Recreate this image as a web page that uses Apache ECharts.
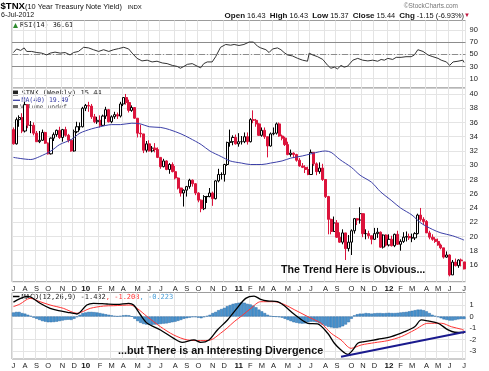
<!DOCTYPE html>
<html><head><meta charset="utf-8">
<script src="https://cdn.jsdelivr.net/npm/echarts@6/dist/echarts.min.js"></script>
<style>html,body{margin:0;padding:0;background:#fff}#c{width:489px;height:371px}</style>
</head><body><div id="c"></div>
<script>
// ---- categories (weekly bars, Fridays) ----
const firstWeek = Date.UTC(2009, 6, 10);
const weekCount = 157;
const weeks = Array.from({length: weekCount}, (_, i) => new Date(firstWeek + i * 7 * 864e5).toISOString().slice(0, 10));

// month tick labels and the week index where each month starts
const monthTickLabels = ['J','A','S','O','N','D','10','F','M','A','M','J','J','A','S','O','N','D','11','F','M','A','M','J','J','A','S','O','N','D','12','F','M','A','M','J','J'];
const monthTickWeeks = [0,4,8,12,17,21,25,30,34,38,43,47,51,56,60,64,69,73,78,82,86,90,95,99,103,108,112,117,121,125,130,134,138,143,147,151,156];

// ---- $TNX weekly candles: [open, close, low, high] ----
const candles2009 = [
 [35.0,33.0,32.9,35.3],[33.0,36.4,32.9,36.7],[36.4,36.7,35.4,37.0],[36.7,34.8,34.5,37.3],[34.8,38.5,34.6,38.9],
 [38.5,35.6,35.2,38.5],[35.6,35.6,34.5,36.2],[35.6,34.5,34.2,36.0],[34.5,33.3,33.3,34.8],[33.3,33.5,33.1,34.8],
 [33.5,34.6,33.4,35.0],[34.6,33.1,33.0,34.7],[33.1,31.6,31.5,33.2],[31.6,33.8,31.5,33.9],[33.8,34.3,33.4,34.6],
 [34.3,34.9,34.0,35.0],[34.9,33.9,33.7,35.4],[33.9,35.0,33.3,35.1],[35.0,34.2,34.0,35.4],[34.2,33.5,33.2,34.4],
 [33.5,32.0,31.9,33.6],[32.0,34.7,31.9,35.0],[34.7,35.4,34.5,36.1],[35.4,35.4,34.9,36.0],[35.4,38.0,35.3,38.2]
];
const candles2010 = [
 [38.0,38.4,37.6,38.6],[38.4,38.3,37.5,38.9],[38.3,36.8,36.5,38.6],[36.8,36.1,35.9,37.2],[36.1,36.3,35.8,36.8],
 [36.3,35.6,35.3,37.0],[35.6,36.9,35.5,37.1],[36.9,37.8,36.5,38.2],[37.8,36.1,36.0,37.9],[36.1,36.8,35.9,37.0],
 [36.8,37.1,36.5,37.5],[37.1,36.9,36.5,37.4],[36.9,38.6,36.7,38.9],[38.6,39.5,38.3,39.5],[39.5,38.8,38.5,40.0],
 [38.8,37.7,37.4,39.2],[37.7,38.1,37.5,38.4],[38.1,36.6,36.5,38.1],[36.6,34.5,33.9,36.6],[34.5,34.4,33.9,35.7],
 [34.4,32.1,31.7,34.4],[32.1,33.0,31.8,33.4],[33.0,32.0,31.9,33.5],[32.0,32.4,31.8,32.7],[32.4,32.2,31.8,33.1],
 [32.2,31.1,31.0,32.5],[31.1,29.8,29.5,31.1],[29.8,30.6,29.7,30.9],[30.6,29.4,29.3,30.7],[29.4,30.1,28.8,30.3],
 [30.1,29.1,29.0,30.4],[29.1,28.2,28.0,29.9],[28.2,26.8,26.6,28.3],[26.8,26.1,25.6,26.8],[26.1,26.5,24.2,26.6],
 [26.5,27.0,25.6,27.1],[27.0,27.9,26.7,28.1],[27.9,27.4,27.0,28.0],[27.4,26.1,25.8,27.5],[26.1,25.1,24.8,26.2],
 [25.1,23.9,23.4,25.2],[23.9,25.6,23.7,25.8],[25.6,25.6,24.7,25.7],[25.6,26.1,25.5,26.8],[26.1,25.3,24.3,26.3],
 [25.3,27.8,25.2,27.9],[27.8,28.7,27.6,29.5],[28.7,28.7,28.0,29.0],[28.7,30.1,27.7,30.2],[30.1,33.2,29.9,33.3],
 [33.2,33.3,32.6,35.0],[33.3,33.9,32.8,34.2],[33.9,33.0,32.9,34.3]
];
const candles2011 = [
 [33.0,33.3,32.6,34.5],[33.3,33.3,32.9,34.1],[33.3,34.0,33.1,34.6],[34.0,33.3,32.9,34.6],[33.3,36.4,33.2,36.6],
 [36.4,36.3,35.9,37.7],[36.3,35.8,35.4,36.5],[35.8,34.2,34.1,35.9],[34.2,34.9,34.0,35.3],[34.9,34.0,33.7,35.3],
 [34.0,32.7,31.1,34.0],[32.7,34.4,32.6,34.6],[34.4,34.5,34.2,35.3],[34.5,35.8,34.3,36.0],[35.8,34.1,34.0,36.0],
 [34.1,33.8,33.5,34.3],[33.8,32.9,32.7,34.0],[32.9,31.5,31.4,33.3],[31.5,31.7,31.2,32.2],[31.7,31.5,31.0,31.8],
 [31.5,30.7,30.5,31.6],[30.7,29.9,29.8,31.0],[29.9,29.7,29.6,30.3],[29.7,29.4,28.9,30.0],[29.4,28.7,28.6,29.8],
 [28.7,31.8,28.7,32.2],[31.8,30.2,29.9,31.8],[30.2,29.1,28.6,30.4],[29.1,29.6,28.8,30.4],[29.6,28.0,27.8,30.2],
 [28.0,25.6,25.4,28.0],[25.6,22.4,20.3,25.7],[22.4,20.7,20.3,22.5],[20.7,21.9,20.8,22.8],[21.9,19.9,19.8,22.3],
 [19.9,19.2,19.1,20.6],[19.2,20.5,18.9,21.0],[20.5,18.3,16.7,20.5],[18.3,19.2,17.9,20.2],[19.2,20.8,17.4,21.0],
 [20.8,22.5,20.4,22.6],[22.5,22.3,21.6,22.6],[22.3,23.2,21.8,24.1],[23.2,20.4,19.9,23.2],[20.4,20.4,19.6,21.0],
 [20.4,20.1,19.7,20.8],[20.1,19.6,18.9,20.1],[19.6,20.4,19.5,21.2],[20.4,20.6,19.8,21.2],[20.6,18.5,18.4,20.7],
 [18.5,20.2,18.3,20.3],[20.2,18.8,18.6,20.3]
];
const candles2012 = [
 [18.8,19.6,18.6,20.3],[19.6,18.7,18.6,20.1],[18.7,20.3,18.5,20.4],[20.3,18.9,18.8,20.8],[18.9,19.3,18.0,19.6],
 [19.3,19.9,19.1,20.6],[19.9,20.0,19.3,20.7],[20.0,19.8,19.5,20.4],[19.8,19.8,19.2,20.4],[19.8,20.4,19.5,20.6],
 [20.4,23.0,20.3,23.2],[23.0,22.4,22.1,24.0],[22.4,22.1,21.6,22.7],[22.1,20.5,20.5,22.3],[20.5,19.9,19.6,20.8],
 [19.9,19.6,19.4,20.3],[19.6,19.3,19.1,19.9],[19.3,18.8,18.7,19.7],[18.8,18.4,18.2,19.0],[18.4,17.1,16.9,18.4],
 [17.1,17.4,17.0,17.9],[17.4,14.6,14.4,17.5],[14.6,16.4,14.6,16.7],[16.4,15.9,15.8,16.9],[15.9,16.7,15.6,16.8],
 [16.7,16.59,15.8,16.9],[16.43,15.44,15.37,16.43]
];

// ---- MA(40), read at sample weeks ----
const maWeek  = [0,6,9,13,16,20,23,27,30,34,37,41,44,47,51,54,58,61,65,68,72,75,79,82,86,89,93,96,100,103,106,108,110,113,117,120,124,127,131,134,138,141,145,148,152,156];
const maValue = [31.1,30.8,31.2,32.0,32.9,33.6,34.5,35.1,35.4,35.7,35.7,35.9,35.8,35.4,35.3,35.0,34.4,33.8,32.9,32.0,31.2,30.6,30.3,30.1,30.1,30.3,30.6,31.0,31.3,31.6,31.9,32.0,31.8,30.8,29.7,28.6,27.6,26.3,25.0,24.0,23.0,21.9,21.0,20.5,20.1,19.49];

// ---- RSI(14) ----
const rsiWeek  = [0,1.1,2.5,3.7,4.6,6.3,8.1,9.8,11.5,12.7,14.4,16.2,17.9,19.6,20.8,22.5,24.3,26,27.7,29.5,31.2,33,34.7,36.4,38.2,39.9,41.1,42.8,44.5,46.3,48,49.7,51.5,53.2,55,56.7,57.8,59,60.2,61.9,63.6,64.8,65.9,67.1,68.8,70,71.7,73.5,75.2,76.4,78.1,79.8,81.6,83.1,84.5,85.6,87.4,88.5,89.7,91.4,92.6,93.7,94.9,96.6,98.4,100.1,101.8,102.4,103.6,105.3,107.1,108.8,109.9,111.1,112.2,113.4,114.5,115.7,117.5,119.2,120.9,122.7,124.4,126.1,127.3,128.4,129.6,131.3,132.5,134.2,135.9,137.7,138.8,140,141.8,143.5,145.2,147,148.1,149.9,151,152.2,153.9,155.6,156];
const rsiValue = [53.1,59,56.6,60.8,54.9,54.9,53.1,52.1,49.1,52.1,53.8,52.1,53.1,49.1,53.1,54.9,61.8,60.8,57.8,54.9,57.8,54.9,57.8,59.6,61.8,59,52.1,43.4,39.2,40.4,37.5,38.7,35.8,34.7,31.7,30,27,30,33.5,34.7,30.5,27.7,34.7,37.5,37.5,46.2,61.8,66.5,65.3,66.5,64.8,66.5,70.5,70.5,63.6,60.8,57.8,53.1,59,60.8,57.8,53.1,49.1,47.4,43.4,40.4,38.7,52.1,49.1,46.2,41.6,31.7,27,28.8,26,31.7,28.8,30.5,40.4,43.4,40.4,39.2,40.4,38.7,41.6,40.4,43.4,41.6,45.1,45.1,46.2,46.2,49.1,57.8,54.9,49.1,46.2,43.4,40.4,37.5,31.7,37.5,38.7,40.4,36.61];

// ---- MACD(12,26,9) ----
const macdWeek  = [0,2.3,4.5,5.75,9.2,12.7,15.6,19.6,22,25.4,27.7,32.4,35.9,39.9,41.6,44,46.3,50.9,55.5,58.4,62.5,64.8,67.7,70.6,74.1,77,80.4,83.3,85.6,88,91.4,93.7,97.2,101.9,105.3,108.8,111.1,113.4,115.8,117.5,119.2,121.5,126.2,130.8,135.4,138.9,141.2,143.5,147,150.5,152.8,155.1,156];
const macdValue = [1.25,1.55,1.75,1.72,1.15,0.71,0.51,0.33,0.22,1.0,1.15,1.09,1.06,1.15,1.0,0.13,-0.59,-1.17,-1.9,-2.25,-2.04,-2.25,-2.04,-1.17,-0.3,0.6,1.58,1.78,1.49,1.35,1.29,0.95,0.2,-0.59,-0.65,-1.46,-2.33,-2.91,-3.29,-2.91,-2.33,-2.19,-1.98,-1.75,-1.32,-0.89,-0.3,-0.39,-0.59,-1.17,-1.37,-1.38,-1.432];
const signalWeek  = [0,2.3,5.75,9.2,12.7,17.3,22,26.6,31.2,34.7,40.5,42.8,46.3,50.9,55.5,60.2,64.8,68.3,71.7,74,76.4,79,82.2,85.6,90.3,93.7,97.2,101.9,106.5,110,113.4,116.9,120.4,125,129.6,134.3,138.9,143.5,148.2,151.6,155.1,156];
const signalValue = [0.86,1.09,1.58,1.29,1.0,0.71,0.28,0.71,0.91,0.94,1.0,0.71,-0.01,-0.89,-1.61,-2.04,-2.1,-2.04,-1.46,-1.0,-0.45,0.05,0.71,1.29,1.29,1.05,0.6,-0.01,-0.59,-1.46,-2.04,-2.77,-2.48,-2.28,-2.1,-1.75,-1.17,-0.59,-0.59,-0.89,-1.11,-1.208];
const histValue = [
 0.35,0.4,0.4,0.3,0.25,0.15,0.05,-0.1,-0.2,-0.3,-0.4,-0.45,-0.5,-0.5,-0.48,-0.45,-0.4,-0.35,-0.3,-0.28,-0.3,-0.2,-0.05,0.15,0.3,
 0.35,0.4,0.4,0.38,0.35,0.3,0.25,0.2,0.15,0.1,0.05,0.02,0.05,0.1,0.12,0.1,0.0,-0.2,-0.4,-0.55,-0.65,-0.7,-0.72,-0.72,-0.7,
 -0.68,-0.65,-0.62,-0.6,-0.55,-0.5,-0.45,-0.38,-0.3,-0.2,-0.15,-0.1,-0.05,-0.05,-0.1,-0.15,-0.05,0.05,0.15,0.3,0.4,0.55,0.65,0.75,0.9,
 1.0,1.1,1.15,1.2,1.25,1.2,1.1,1.05,0.95,0.8,0.6,0.45,0.3,0.15,0.05,0.0,-0.02,-0.05,-0.1,-0.2,-0.3,-0.4,-0.5,-0.55,-0.6,
 -0.62,-0.6,-0.5,-0.45,-0.45,-0.5,-0.6,-0.7,-0.8,-0.9,-0.95,-1.0,-1.0,-0.95,-0.85,-0.7,-0.5,-0.2,0.1,0.2,0.25,0.25,0.3,0.28,0.25,
 0.28,0.3,0.3,0.28,0.3,0.32,0.3,0.3,0.32,0.35,0.38,0.4,0.45,0.5,0.55,0.6,0.6,0.55,0.45,0.3,0.15,0.05,-0.05,-0.15,-0.25,
 -0.3,-0.35,-0.35,-0.3,-0.25,-0.22,-0.223
];
// drawn trend line on MACD
const trendWeek  = [113.4, 156.5];
const trendValue = [-3.5, -1.33];

// axis ticks
const rsiTicks   = [10, 30, 50, 70, 90];
const priceTicks = [16, 18, 20, 22, 24, 26, 28, 30, 32, 34, 36, 38, 40];
const macdTicks  = [-3, -2, -1, 0, 1];

// ---------------------------------------------------------------
const allCandles = [...candles2009, ...candles2010, ...candles2011, ...candles2012];
const RED = '#dc143c';
const candleData = allCandles.map((c, i) => {
  const prev = i > 0 ? allCandles[i - 1][1] : c[0];
  const col = c[1] >= prev ? '#000000' : RED;
  const fill = c[1] > c[0] ? '#ffffff' : col;
  return {value: c, itemStyle: {color: fill, color0: fill, borderColor: col, borderColor0: col}};
});
const pairs = (xs, ys) => xs.map((x, i) => [x, ys[i]]);
const isMonth = (i) => monthTickWeeks.indexOf(i) >= 0;
const GL = 12, GW = 453.5;
const FONT = '"Liberation Sans", Arial, sans-serif';
const MONO = '"DejaVu Sans Mono", monospace';
const GRID_C = '#e4e4e4';

function catAxis(gi, showLabels) {
  return {
    type: 'category', gridIndex: gi, data: weeks, boundaryGap: true,
    axisLine: {show: false}, axisTick: {show: false},
    splitLine: {show: true, interval: (i) => isMonth(i), lineStyle: {color: GRID_C, width: 1}},
    axisLabel: {
      show: showLabels, interval: (i) => isMonth(i), margin: 3,
      fontSize: 7.5, color: '#222', fontFamily: FONT,
      formatter: (v, i) => {
        const k = monthTickWeeks.indexOf(i);
        if (k < 0) return '';
        const t = monthTickLabels[k];
        return /\d/.test(t) ? '{b|' + t + '}' : t;
      },
      rich: {b: {fontWeight: 'bold', fontSize: 8, fontFamily: FONT, color: '#111'}}
    }
  };
}
function valXAxis(gi) {
  return {type: 'value', gridIndex: gi, min: -0.5, max: weekCount - 0.5, show: false};
}
function yAx(gi, min, max, ticks) {
  return {
    type: 'value', gridIndex: gi, position: 'right', min: min, max: max, scale: true,
    axisLine: {show: false},
    axisTick: {show: false, customValues: ticks},
    splitLine: {show: true, lineStyle: {color: GRID_C, width: 1}},
    axisLabel: {customValues: ticks, margin: 4, fontSize: 7.5, color: '#222', fontFamily: FONT}
  };
}
const gridBase = {left: GL, width: GW, show: true, borderColor: '#9c9c9c', borderWidth: 1, backgroundColor: '#fff'};

const chart = echarts.init(document.getElementById('c'), null, {renderer: 'canvas'});
chart.setOption({
  animation: false,
  backgroundColor: '#ffffff',
  grid: [
    Object.assign({top: 20.5, height: 67.5}, gridBase),
    Object.assign({top: 88, height: 193.7}, gridBase),
    Object.assign({top: 292.5, height: 66.5}, gridBase)
  ],
  xAxis: [catAxis(0, false), catAxis(1, true), catAxis(2, true), valXAxis(0), valXAxis(1), valXAxis(2)],
  yAxis: [yAx(0, -5.8, 106.3, rsiTicks), yAx(1, 13.65, 40.84, priceTicks), yAx(2, -3.7, 2.09, macdTicks)],
  series: [
    {type: 'line', xAxisIndex: 3, yAxisIndex: 0, data: pairs(rsiWeek, rsiValue), symbol: 'none',
     lineStyle: {color: '#333', width: 1}, z: 5,
     markLine: {silent: true, symbol: 'none', label: {show: false}, animation: false,
       data: [
         {yAxis: 70, lineStyle: {color: '#8c8c8c', width: 1, type: 'solid'}},
         {yAxis: 30, lineStyle: {color: '#8c8c8c', width: 1, type: 'solid'}},
         {yAxis: 50, lineStyle: {color: '#8c8c8c', width: 1, type: [6, 2, 1, 2]}}
       ]}},
    {type: 'candlestick', xAxisIndex: 1, yAxisIndex: 1, data: candleData, barWidth: 2.6, z: 4,
     itemStyle: {borderWidth: 1}},
    {type: 'line', xAxisIndex: 4, yAxisIndex: 1, data: pairs(maWeek, maValue), symbol: 'none', smooth: 0.3,
     lineStyle: {color: '#3c40a8', width: 1}, z: 5},
    {type: 'bar', xAxisIndex: 2, yAxisIndex: 2, data: histValue, barCategoryGap: '0%',
     itemStyle: {color: '#4b95cf', borderColor: '#2a6aa6', borderWidth: 0.5}, z: 3},
    {type: 'line', xAxisIndex: 5, yAxisIndex: 2, data: pairs(signalWeek, signalValue), symbol: 'none', smooth: 0.3,
     lineStyle: {color: '#ff3333', width: 1}, z: 5},
    {type: 'line', xAxisIndex: 5, yAxisIndex: 2, data: pairs(macdWeek, macdValue), symbol: 'none', smooth: 0.3,
     lineStyle: {color: '#000', width: 1.3}, z: 6},
    {type: 'line', xAxisIndex: 5, yAxisIndex: 2, data: pairs(trendWeek, trendValue), symbol: 'none',
     lineStyle: {color: '#1a1a8e', width: 2}, z: 7}
  ],
  graphic: [
    {type: 'text', x: 0.5, y: 6, style: {text: '$TNX', font: 'bold 9.6px "Liberation Sans"', fill: '#000', textVerticalAlign: 'middle'}},
    {type: 'text', x: 25, y: 6.5, style: {text: '(10 Year Treasury Note Yield)', font: '7.4px "Liberation Sans"', fill: '#111', textVerticalAlign: 'middle'}},
    {type: 'text', x: 127.5, y: 7, style: {text: 'INDX', font: '6px "Liberation Sans"', fill: '#111', textVerticalAlign: 'middle'}},
    {type: 'text', x: 1, y: 15.5, style: {text: '6-Jul-2012', font: '7px "Liberation Sans"', fill: '#111', textVerticalAlign: 'middle'}},
    {type: 'text', x: 458, y: 6, style: {text: '\u00a9StockCharts.com', font: '6.5px "Liberation Sans"', fill: '#777', textAlign: 'right', textVerticalAlign: 'middle'}},
    {type: 'text', x: 470, y: 15.5, style: {
      text: '{b|Open} 16.43  {b|High} 16.43  {b|Low} 15.37  {b|Close} 15.44  {b|Chg} -1.15 (-6.93%){r|\u25bc}',
      font: '7.4px "Liberation Sans"', fill: '#111', textAlign: 'right', textVerticalAlign: 'middle',
      rich: {b: {fontWeight: 'bold', fontSize: 8, fontFamily: 'Liberation Sans'}, r: {fill: '#c0143c', fontSize: 6}}}},
    // RSI legend
    {type: 'polygon', shape: {points: [[13, 28], [15.5, 23], [18, 28]]}, style: {fill: '#2e8b2e'}},
    {type: 'text', x: 20, y: 25.5, style: {text: 'RSI(14) 36.61', font: '6.8px ' + MONO, fill: '#222', textVerticalAlign: 'middle'}},
    // price legend
    {type: 'rect', shape: {x: 13, y: 90.5, width: 5, height: 5}, style: {fill: '#222'}},
    {type: 'text', x: 21.5, y: 93.3, style: {text: '$TNX (Weekly) 15.44', font: '7px ' + MONO, fill: '#222', textVerticalAlign: 'middle'}},
    {type: 'line', shape: {x1: 13, y1: 100.3, x2: 20, y2: 100.3}, style: {stroke: '#3c40a8', lineWidth: 1.3}},
    {type: 'text', x: 21.5, y: 100.3, style: {text: 'MA(40) 19.49', font: '6.5px ' + MONO, fill: '#3c40a8', textVerticalAlign: 'middle'}},
    {type: 'rect', shape: {x: 13, y: 105, width: 5, height: 4}, style: {fill: '#666'}},
    {type: 'text', x: 20, y: 107, style: {text: 'Volume undef', font: '6.5px ' + MONO, fill: '#555', textVerticalAlign: 'middle'}},
    // MACD legend
    {type: 'line', shape: {x1: 13, y1: 296.5, x2: 19.5, y2: 296.5}, style: {stroke: '#000', lineWidth: 1.5}},
    {type: 'text', x: 21.5, y: 296.8, style: {
      text: 'MACD(12,26,9) -1.432{r|, -1.208}{c|, -0.223}', font: '7px ' + MONO, fill: '#222', textVerticalAlign: 'middle',
      backgroundColor: '#fff',
      rich: {r: {fill: '#ff3333', fontFamily: 'DejaVu Sans Mono', fontSize: 7}, c: {fill: '#4b9fd8', fontFamily: 'DejaVu Sans Mono', fontSize: 7}}}},
    // annotations
    {type: 'text', x: 281, y: 270.5, z: 100, style: {text: 'The Trend Here is Obvious...', font: 'bold 10.7px "Liberation Sans"', fill: '#111', textVerticalAlign: 'middle'}},
    {type: 'text', x: 118, y: 351.5, z: 100, style: {text: '...but There is an Interesting Divergence', font: 'bold 10.8px "Liberation Sans"', fill: '#111', textVerticalAlign: 'middle'}}
  ]
});
</script></body></html>
